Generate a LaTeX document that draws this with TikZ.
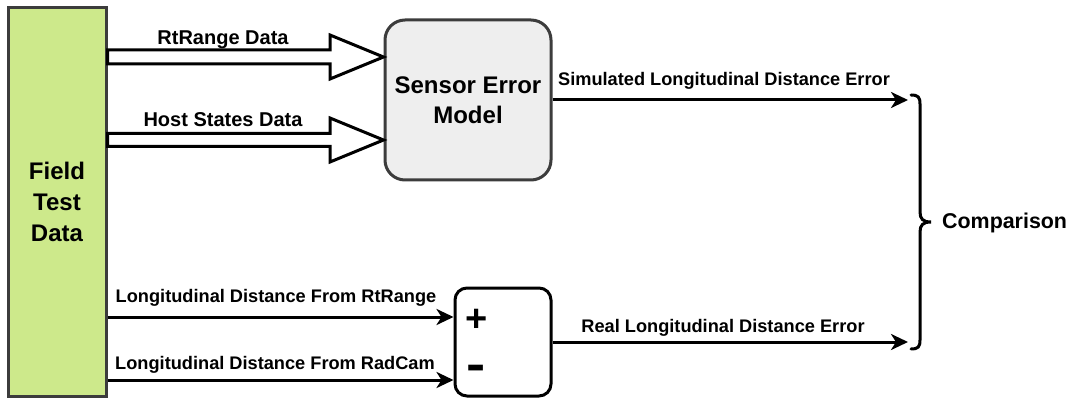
\documentclass[tikz,border=0pt]{standalone}
\usepackage{fontspec}
\setmainfont{Liberation Sans}
\usetikzlibrary{arrows.meta,calc}
\definecolor{fieldgreen}{HTML}{CDE98B}
\definecolor{boxgray}{HTML}{EEEEEE}
\definecolor{edgegray}{HTML}{3C3C3C}
\begin{document}
\begin{tikzpicture}[x=1pt,y=-1pt,
  bigtext/.style={font=\fontsize{24}{30}\selectfont\bfseries, align=center},
  lbl/.style={font=\fontsize{18.2}{20}\selectfont\bfseries, anchor=base, inner sep=0pt},
  toplbl/.style={font=\fontsize{20}{22}\selectfont\bfseries, anchor=base, inner sep=0pt},
  fieldbox/.style={draw=edgegray, fill=fieldgreen, line width=3pt, minimum width=98pt, minimum height=388pt, inner sep=0pt, bigtext, font=\fontsize{24}{31}\selectfont\bfseries},
  modelbox/.style={draw=edgegray, fill=boxgray, line width=3pt, rounded corners=20pt, minimum width=166pt, minimum height=160pt, inner sep=0pt, bigtext},
  pmbox/.style={draw=black, fill=white, line width=3pt, rounded corners=12pt, minimum width=96pt, minimum height=108pt, inner sep=0pt},
  arr/.style={line width=3pt, -{Stealth[length=17pt,width=16pt,inset=5pt]}},
  blockarrow/.style={draw=black, fill=white, line width=3pt, line join=miter},
  brace/.style={draw=black, line width=3pt, line cap=round}
]
\path[use as bounding box] (0,0) rectangle (1071,398);

% nodes
\node[fieldbox] (field) at (57,202) {Field\\Test\\Data};
\node[modelbox] (model) at (468,100) {Sensor Error\\Model};
\node[pmbox] (pm) at (503,342) {};
\node[font=\fontsize{38}{38}\selectfont\bfseries, inner sep=0pt] (plus) at (477,320) {+};
\node[font=\fontsize{48}{48}\selectfont\bfseries, inner sep=0pt, xscale=1.2] (minus) at (476,373) {-};

% helper coordinates
\coordinate (a1) at (0,57);
\coordinate (a2) at (0,140);
\coordinate (r1) at (0,317);
\coordinate (r2) at (0,380);
\coordinate (bx) at (908,0);

% block arrows
\draw[blockarrow] ($(field.east |- a1)+(0,-7)$) -- (330,50) -- (330,35) -- (model.west |- a1) -- (330,79) -- (330,64) -- ($(field.east |- a1)+(0,7)$) -- cycle;
\draw[blockarrow] ($(field.east |- a2)+(0,-6.5)$) -- (330,133.5) -- (330,118) -- (model.west |- a2) -- (330,162) -- (330,146.5) -- ($(field.east |- a2)+(0,6.5)$) -- cycle;
\node[toplbl] (l1) at (223,45) {RtRange Data};
\node[toplbl] (l2) at (223,127) {Host States Data};

% lower arrows
\draw[arr] (field.east |- r1) -- (pm.west |- r1);
\draw[arr] (field.east |- r2) -- (pm.west |- r2);
\node[lbl] (l3) at (276,302) {Longitudinal Distance From RtRange};
\node[lbl] (l4) at (275,369) {Longitudinal Distance From RadCam};

% outputs
\draw[arr] (model.east) -- (model.east -| bx);
\draw[arr] (pm.east) -- (pm.east -| bx);
\node[lbl] (l5) at (724,86) {Simulated Longitudinal Distance Error};
\node[lbl] (l6) at (723,332) {Real Longitudinal Distance Error};

% brace
\coordinate (btip) at (931,222);
\draw[brace] (911,95) .. controls (918,95) and (920,97) .. (920,104) -- (920,212) .. controls (920,219) and (923,222) .. (btip) .. controls (923,222) and (920,225) .. (920,232) -- (920,340) .. controls (920,347) and (918,349) .. (911,349);
\node[font=\fontsize{21.4}{22}\selectfont\bfseries, anchor=west, inner sep=0pt] (cmp) at (942,223) {Comparison};
\end{tikzpicture}
\end{document}
